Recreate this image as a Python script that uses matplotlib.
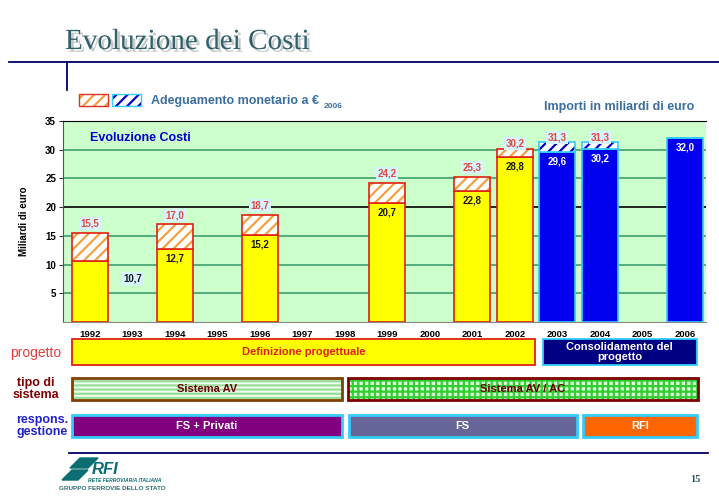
import matplotlib
matplotlib.use('Agg')
import matplotlib.pyplot as plt
import matplotlib.patheffects as pe
from matplotlib.patches import Rectangle, Polygon

plt.rcParams['font.family'] = ['Liberation Sans', 'DejaVu Sans']
plt.rcParams['hatch.linewidth'] = 1.6

# --- dati (miliardi di euro) ---
anni = ['1992', '1993', '1994', '1995', '1996', '1997', '1998', '1999',
        '2000', '2001', '2002', '2003', '2004', '2005', '2006']
yticks = [5, 10, 15, 20, 25, 30, 35]

# fase "Definizione progettuale" (barre gialle)
anni_gialli = ['1992', '1994', '1996', '1999', '2001', '2002']
costi_gialli = [10.7, 12.7, 15.2, 20.7, 22.8, 28.8]
adeguati_gialli = [15.5, 17.0, 18.7, 24.2, 25.3, 30.2]

# fase "Consolidamento del progetto" (barre blu)
anni_blu = ['2003', '2004', '2006']
costi_blu = [29.6, 30.2, 32.0]
adeguati_blu = [31.3, 31.3, 32.0]

# righe sotto il grafico: testo, anno iniziale, anno finale (indici degli anni)
progetto_testi = ['Definizione progettuale', 'Consolidamento del\nprogetto']
progetto_da = [-0.42, 10.66]
progetto_a = [10.47, 14.28]
sistema_testi = ['Sistema AV', 'Sistema AV / AC']
sistema_da = [-0.42, 6.07]
sistema_a = [5.93, 14.31]
gestione_testi = ['FS + Privati', 'FS', 'RFI']
gestione_da = [-0.42, 6.09, 11.60]
gestione_a = [5.93, 11.46, 14.28]

W, H = 719, 496
fig = plt.figure(figsize=(W / 100, H / 100), dpi=100)
fig.patch.set_facecolor('white')

# asse di sfondo in pixel per titolo, linee, logo
bg = fig.add_axes([0, 0, 1, 1])
bg.set_xlim(0, W)
bg.set_ylim(H, 0)
bg.axis('off')

bg.text(65, 42, 'Evoluzione dei Costi', fontsize=21, family='Liberation Serif',
        color='#2F5F6A', va='center', ha='left',
        path_effects=[pe.SimplePatchShadow(offset=(2, -2), shadow_rgbFace='#A0A8A8', alpha=0.6),
                      pe.Normal()])
bg.plot([9, W], [62, 62], color='#000066', lw=1.3)
bg.plot([67, 67], [62, 90], color='#000066', lw=1.3)
bg.plot([69, 708], [453, 453], color='#000066', lw=1.3)
bg.text(695, 479, '15', fontsize=7.5, family='Liberation Serif', weight='bold',
        color='#2F4F5F', ha='center', va='center')

# legenda in alto
bg.add_patch(Rectangle((79, 94), 29, 12, facecolor='white', edgecolor='#F4A040', hatch='///', lw=0))
bg.add_patch(Rectangle((79, 94), 29, 12, fill=False, edgecolor='#E03020', lw=1))
bg.add_patch(Rectangle((112, 94), 29, 12, facecolor='white', edgecolor='#0000CC', hatch='///', lw=0))
bg.add_patch(Rectangle((112, 94), 29, 12, fill=False, edgecolor='#33CCFF', lw=1))
leg = bg.text(151, 101, 'Adeguamento monetario a €', fontsize=9, weight='bold',
              color='#3A6E9E', va='center', ha='left')
bg.annotate('2006', xy=(1, 0), xycoords=leg, xytext=(3, -2), textcoords='offset points',
            fontsize=6, weight='bold', color='#3A6E9E', va='bottom', ha='left')
bg.text(694, 107, 'Importi in miliardi di euro', fontsize=9, weight='bold',
        color='#3A6E9E', va='center', ha='right')

# etichette delle righe
bg.text(36, 353, 'progetto', fontsize=10, color='#E0403C', ha='center', va='center')
bg.text(36, 389, 'tipo di\nsistema', fontsize=9, weight='bold', color='#800000',
        ha='center', va='center', linespacing=1.0)
bg.text(42, 426, 'respons.\ngestione', fontsize=9, weight='bold', color='#2222CC',
        ha='center', va='center', linespacing=1.0)

# logo RFI (solo testo e una forma semplice)
bg.add_patch(Polygon([[70, 468], [80, 458], [98, 458], [88, 468]], color='#0A6E72'))
bg.add_patch(Polygon([[62, 480], [72, 470], [88, 470], [78, 480]], color='#0A6E72'))
bg.text(92, 470, 'RFI', fontsize=12, weight='bold', style='italic', color='#0A6E72',
        ha='left', va='center')
bg.text(88, 481, 'RETE FERROVIARIA ITALIANA', fontsize=3.6, weight='bold', style='italic',
        color='#0A6E72', ha='left', va='center')
bg.text(59, 489, 'GRUPPO FERROVIE DELLO STATO', fontsize=4.6, weight='bold',
        color='#2F6F70', ha='left', va='center')

# --- grafico principale ---
ax = fig.add_axes([63 / W, 1 - 322 / H, 643 / W, 201 / H])
ax.set_facecolor('#CCFFCC')
ax.set_xlim(-0.635, 14.5)
ax.set_ylim(0, 35)
for v in yticks[:-1]:
    ax.axhline(v, color='#339966' if v != 20 else 'black', lw=1.1 if v != 20 else 1.2, zorder=1)

pos = {a: i for i, a in enumerate(anni)}
xg = [pos[a] for a in anni_gialli]
xb = [pos[a] for a in anni_blu]
w = 0.85

hg = [t - c for t, c in zip(adeguati_gialli, costi_gialli)]
hb = [t - c for t, c in zip(adeguati_blu, costi_blu)]

ax.bar(xg, costi_gialli, width=w, color='#FFFF00', edgecolor='#E02010', lw=1.2, zorder=3)
ax.bar(xg, hg, bottom=costi_gialli, width=w, color='white', edgecolor='#F4A040',
       hatch='///', lw=0, zorder=3)
ax.bar(xg, hg, bottom=costi_gialli, width=w, fill=False, edgecolor='#E02010', lw=1.2, zorder=4)

ax.bar(xb, costi_blu, width=w, color='#0000EE', edgecolor='#33CCFF', lw=1.2, zorder=3)
ax.bar(xb, hb, bottom=costi_blu, width=w, color='white', edgecolor='#0000CC',
       hatch='///', lw=0, zorder=3)
ax.bar(xb, hb, bottom=costi_blu, width=w, fill=False, edgecolor='#33CCFF', lw=1.2, zorder=4)

box = dict(boxstyle='square,pad=0.15', facecolor='#D6F4FF', edgecolor='none')
for i, (x, c, t) in enumerate(zip(xg, costi_gialli, adeguati_gialli)):
    dy = 0.9 if t > 29 else 1.6
    ax.text(x, t + dy, f'{t:.1f}'.replace('.', ','), fontsize=7, weight='bold',
            color='#E04A3A', ha='center', va='center', bbox=box, zorder=5)
    if i == 0:
        # valore 1992 scritto accanto alla barra
        ax.text(x + 1, c - 3.2, f'{c:.1f}'.replace('.', ','), fontsize=7, weight='bold',
                color='#1A1A1A', ha='center', va='center', bbox=box, zorder=5)
    else:
        ax.text(x, c - 1.65, f'{c:.1f}'.replace('.', ','), fontsize=7, weight='bold',
                color='#1A1A1A', ha='center', va='center', zorder=5)
for x, c, t in zip(xb, costi_blu, adeguati_blu):
    if t > c:
        ax.text(x, t + 0.9, f'{t:.1f}'.replace('.', ','), fontsize=7, weight='bold',
                color='#E04A3A', ha='center', va='center', bbox=box, zorder=5)
    ax.text(x, c - 1.65, f'{c:.1f}'.replace('.', ','), fontsize=7, weight='bold',
            color='white', ha='center', va='center', zorder=5)

ax.text(0, 32, 'Evoluzione Costi', fontsize=9, weight='bold', color='#0000CC',
        ha='left', va='center', zorder=5)

ax.set_xticks(range(len(anni)))
ax.set_xticklabels(anni, fontsize=6.8, weight='bold')
ax.tick_params(axis='x', length=0, pad=6)
ax.set_yticks(yticks)
ax.set_yticklabels([str(v) for v in yticks], fontsize=7, weight='bold')
ax.tick_params(axis='y', length=3, pad=2, color='#333333')
ax.set_ylabel('Miliardi di euro', fontsize=7, weight='bold', labelpad=12)
ax.spines['right'].set_visible(False)
ax.spines['top'].set_color('black')
ax.spines['left'].set_color('#555555')
ax.spines['bottom'].set_color('#888888')

# --- righe sotto il grafico (x in indici degli anni, y in pixel) ---
rw = fig.add_axes([63 / W, 0, 643 / W, 1])
rw.set_xlim(ax.get_xlim())
rw.set_ylim(H, 0)
rw.axis('off')

# progetto
stili_prog = [('#FFFF00', '#E02010', '#E02020'), ('#000080', '#33CCFF', 'white')]
for testo, a, b, (fc, ec, tc) in zip(progetto_testi, progetto_da, progetto_a, stili_prog):
    rw.add_patch(Rectangle((a, 339), b - a, 26, facecolor=fc, edgecolor=ec, lw=1.3))
    rw.text((a + b) / 2, 352, testo, fontsize=8, weight='bold', color=tc,
            ha='center', va='center', linespacing=1.05)

# tipo di sistema
stili_sis = [('#EFFFEF', '#99DD99', '----', '#804000'), ('#D8FFD8', '#33CC33', '+++', '#800000')]
for testo, a, b, (fc, hc, ht, ec) in zip(sistema_testi, sistema_da, sistema_a, stili_sis):
    rw.add_patch(Rectangle((a, 378), b - a, 22, facecolor=fc, edgecolor=hc, hatch=ht, lw=0))
    rw.add_patch(Rectangle((a, 378), b - a, 22, fill=False, edgecolor=ec, lw=2))
    rw.text((a + b) / 2, 389, testo, fontsize=8, weight='bold', color='#6A0000',
            ha='center', va='center')

# responsabilita gestione
colori_gest = ['#800080', '#666699', '#FF6600']
for testo, a, b, fc in zip(gestione_testi, gestione_da, gestione_a, colori_gest):
    rw.add_patch(Rectangle((a, 415), b - a, 22, facecolor=fc, edgecolor='#33CCFF', lw=2))
    rw.text((a + b) / 2, 426, testo, fontsize=8, weight='bold', color='white',
            ha='center', va='center')

fig.savefig('out.png', dpi=100)
